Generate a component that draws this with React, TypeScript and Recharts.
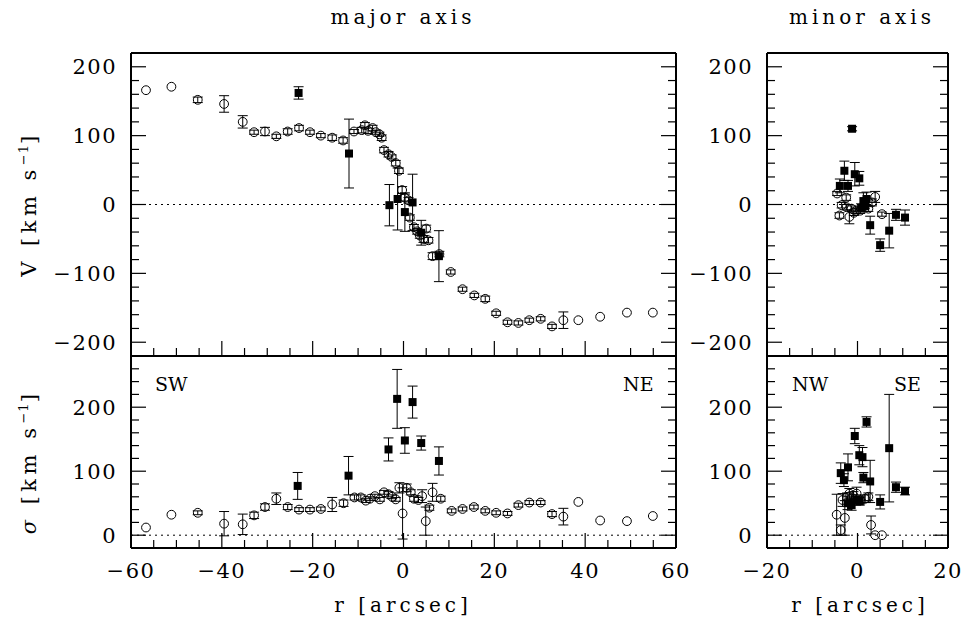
import React from 'react';
import { ScatterChart, Scatter, XAxis, YAxis, ErrorBar, ReferenceLine } from 'recharts';

// [r (arcsec), value (km/s), error]
type Pt = [number, number, number];

// major axis, velocity
const majorGasV: Pt[] = [
  [-56.7, 166, 0], [-51.1, 171, 0], [-45.3, 152, 4], [-39.5, 146, 12], [-35.4, 120, 9],
  [-32.9, 105, 3], [-30.5, 106, 6], [-28, 99, 3], [-25.5, 106, 4], [-23, 111, 4],
  [-20.6, 105, 3], [-18.2, 100, 3], [-15.7, 97, 4], [-13.3, 93, 4], [-10.9, 106, 3],
  [-9.2, 108, 4], [-8.5, 115, 4], [-7.8, 107, 4], [-6.8, 111, 4], [-6.1, 105, 3],
  [-5.3, 102, 3], [-4.8, 97, 4], [-4.3, 79, 4], [-3.3, 73, 4], [-2.6, 69, 3],
  [-1.7, 60, 4], [-1.0, 49, 4], [-0.3, 21, 5], [0.3, 10, 5], [1.1, 6, 4],
  [1.4, -19, 4], [2.3, -33, 4], [3.0, -39, 4], [3.6, -45, 4], [4.4, -50, 5],
  [5.0, -35, 5], [5.5, -52, 4], [6.4, -75, 5], [7.9, -72, 4], [10.4, -98, 3],
  [13.0, -123, 3], [15.6, -132, 3], [18.0, -137, 4], [20.4, -158, 3], [22.9, -171, 3],
  [25.3, -172, 3], [27.7, -168, 3], [30.2, -166, 3], [32.7, -177, 3], [35.2, -168, 12],
  [38.5, -168, 0], [43.3, -163, 0], [49.2, -157, 0], [54.9, -157, 0],
];
const majorStarV: Pt[] = [
  [-23.1, 162, 9], [-12.0, 74, 50], [-3.1, -1, 30], [-1.3, 8, 45],
  [0.3, -11, 28], [2.0, 3, 41], [3.9, -41, 18], [7.8, -75, 37],
];

// major axis, dispersion
const majorGasS: Pt[] = [
  [-56.7, 12, 0], [-51.1, 32, 0], [-45.3, 35, 3], [-39.5, 18, 19], [-35.4, 17, 16],
  [-32.9, 31, 5], [-30.5, 44, 5], [-28, 57, 9], [-25.5, 44, 4], [-23, 40, 3],
  [-20.6, 40, 3], [-18.2, 41, 3], [-15.7, 48, 11], [-13.2, 50, 5], [-10.8, 59, 4],
  [-9.4, 59, 4], [-8.3, 54, 3], [-7.4, 57, 3], [-6.3, 61, 3], [-5.2, 56, 3],
  [-4.3, 67, 3], [-3.3, 64, 4], [-2.5, 60, 3], [-1.7, 56, 3], [-0.9, 74, 8],
  [-0.2, 34, 40], [0.7, 74, 6], [1.6, 67, 4], [2.3, 57, 4], [3.3, 55, 4],
  [4.1, 61, 10], [4.9, 22, 22], [5.7, 43, 4], [6.4, 67, 14], [8.2, 57, 4],
  [10.6, 38, 3], [13.0, 41, 3], [15.5, 44, 3], [18.0, 38, 3], [20.4, 35, 3],
  [22.9, 34, 3], [25.3, 47, 3], [27.7, 51, 3], [30.2, 51, 3], [32.7, 33, 4],
  [35.2, 29, 13], [38.5, 52, 0], [43.3, 23, 0], [49.2, 22, 0], [54.9, 30, 0],
];
const majorStarS: Pt[] = [
  [-23.3, 77, 21], [-12.1, 93, 30], [-3.3, 134, 18], [-1.4, 213, 46],
  [0.3, 148, 20], [2.0, 208, 25], [3.9, 144, 11], [7.8, 116, 22],
];

// minor axis, velocity
const minorGasV: Pt[] = [
  [-4.5, 16, 3], [-4.0, -16, 4], [-3.5, -1, 4], [-2.5, 10, 4], [-2.4, -4, 4],
  [-1.8, -18, 10], [-1.3, -6, 4], [-0.8, -12, 4], [-0.3, -9, 4], [0.6, -9, 4],
  [1.6, -2, 4], [2.4, -6, 4], [3.2, 3, 5], [3.9, 11, 8], [5.4, -14, 3],
];
const minorStarV: Pt[] = [
  [-1.2, 110, 3], [-2.9, 49, 14], [-0.6, 44, 17], [0.4, 38, 10], [-3.9, 27, 10],
  [-2.1, 27, 8], [0.8, -5, 6], [1.3, 5, 12], [1.7, -2, 8], [2.0, 8, 10],
  [2.8, -30, 13], [5.0, -59, 9], [7.0, -38, 25], [8.5, -15, 8], [10.5, -19, 11],
];

// minor axis, dispersion
const minorGasS: Pt[] = [
  [-4.6, 32, 32], [-3.7, 8, 8], [-2.8, 27, 27], [-3.3, 55, 10], [-2.3, 60, 6],
  [-1.8, 65, 8], [-1.3, 58, 5], [-0.9, 62, 6], [-0.2, 65, 10], [0.6, 55, 6],
  [1.7, 57, 6], [2.4, 60, 6], [3.0, 16, 14], [3.9, 0, 0], [5.4, 0, 0],
];
const minorStarS: Pt[] = [
  [-3.7, 97, 16], [-3.0, 86, 10], [-2.1, 106, 21], [-0.6, 155, 12], [0.4, 125, 15],
  [1.1, 122, 15], [2.0, 177, 8], [1.3, 90, 8], [2.8, 84, 33], [5.0, 52, 11],
  [7.0, 136, 84], [8.5, 75, 8], [10.5, 69, 6], [-1.3, 47, 8], [-0.3, 55, 8],
  [-2.2, 50, 10], [0.5, 53, 6],
];

// tick labels
const majorRTicks = [-60, -40, -20, 0, 20, 40, 60];
const minorRTicks = [-20, 0, 20];
const vTicks = [-200, -100, 0, 100, 200];
const sigmaTicks = [0, 100, 200];

const W = 965;
const H = 626;
const FONT = '"DejaVu Serif", serif';

const rows = (pts: Pt[]) => pts.map(([r, v, e]) => ({ r, v, e }));
const fmt = (v: number) => (v < 0 ? '\u2212' + Math.abs(v) : String(v));
const steps = (a: number, b: number, s: number) => {
  const out: number[] = [];
  for (let k = 0; a + k * s <= b + 1e-9; k++) out.push(a + k * s);
  return out;
};

const OpenCircle = (p: any) => (
  <circle cx={p.cx} cy={p.cy} r={4.4} fill="none" stroke="#000" strokeWidth={1} />
);
const FilledSquare = (p: any) => (
  <rect x={p.cx - 4} y={p.cy - 4} width={8} height={8} fill="#000" />
);

type Side = 'bottom' | 'top' | 'left' | 'right';
const tickText = { fontFamily: FONT, fontSize: 21, letterSpacing: 1.5, fill: '#000' };

// draws inward tick marks (long for labelled values, short otherwise) and the labels
const makeTick = (side: Side, majors: number[], showLabel: boolean) => (p: any) => {
  const v = p.payload.value;
  const major = majors.includes(v);
  const len = major ? 15 : 8;
  const x = p.x;
  const y = p.y;
  const dx = side === 'left' ? len : side === 'right' ? -len : 0;
  const dy = side === 'bottom' ? -len : side === 'top' ? len : 0;
  return (
    <g>
      <line x1={x} y1={y} x2={x + dx} y2={y + dy} stroke="#000" strokeWidth={1.2} />
      {major && showLabel && side === 'bottom' && (
        <text x={x} y={y + 15} dy="0.72em" textAnchor="middle" {...tickText}>{fmt(v)}</text>
      )}
      {major && showLabel && side === 'left' && (
        <text x={x - 14} y={y} dy="0.36em" textAnchor="end" {...tickText}>{fmt(v)}</text>
      )}
    </g>
  );
};

const frame = { stroke: '#000', strokeWidth: 2 };

function axes(xd: [number, number], yd: [number, number], xMajor: number[], yMajor: number[], showX: boolean) {
  const xAll = steps(xd[0], xd[1], 5);
  const yAll = steps(yd[0], yd[1], 20);
  const c = {
    type: 'number' as const, allowDataOverflow: true, interval: 0 as const,
    tickSize: 0, tickMargin: 0, tickLine: false, axisLine: frame,
  };
  return [
    <XAxis key="xb" xAxisId="xb" orientation="bottom" dataKey="r" domain={xd} ticks={xAll} height={1}
      tick={makeTick('bottom', xMajor, showX)} {...c} />,
    <XAxis key="xt" xAxisId="xt" orientation="top" domain={xd} ticks={xAll} height={1}
      tick={makeTick('top', xMajor, false)} {...c} />,
    <YAxis key="yl" yAxisId="yl" orientation="left" dataKey="v" domain={yd} ticks={yAll} width={1}
      tick={makeTick('left', yMajor, true)} {...c} />,
    <YAxis key="yr" yAxisId="yr" orientation="right" domain={yd} ticks={yAll} width={1}
      tick={makeTick('right', yMajor, false)} {...c} />,
  ];
}

function Panel(props: {
  margin: { top: number; left: number; right: number; bottom: number };
  xd: [number, number]; yd: [number, number];
  xTicks: number[]; yTicks: number[]; showX: boolean;
  gas: Pt[]; stars: Pt[];
}) {
  const { margin, xd, yd, xTicks, yTicks, showX, gas, stars } = props;
  return (
    <div style={{ position: 'absolute', left: 0, top: 0 }}>
      <ScatterChart width={W} height={H} margin={margin}>
        {axes(xd, yd, xTicks, yTicks, showX)}
        <ReferenceLine y={0} xAxisId="xb" yAxisId="yl" stroke="#000" strokeWidth={1} strokeDasharray="2 4" />
        <Scatter data={rows(gas)} xAxisId="xb" yAxisId="yl" shape={OpenCircle} isAnimationActive={false}>
          <ErrorBar dataKey="e" direction="y" width={5} stroke="#000" strokeWidth={1} isAnimationActive={false} />
        </Scatter>
        <Scatter data={rows(stars)} xAxisId="xb" yAxisId="yl" shape={FilledSquare} isAnimationActive={false}>
          <ErrorBar dataKey="e" direction="y" width={5} stroke="#000" strokeWidth={1} isAnimationActive={false} />
        </Scatter>
      </ScatterChart>
    </div>
  );
}

const label = { fontFamily: FONT, fontSize: 20, letterSpacing: 4, fill: '#000' };
const yLabel = { fontFamily: FONT, fontSize: 21, letterSpacing: 4.5, fill: '#000' };
const corner = { fontFamily: FONT, fontSize: 19, fill: '#000' };

export default function App() {
  return (
    <div style={{ position: 'absolute', left: 0, top: 0, width: W, height: H, background: '#fff' }}>
      <Panel margin={{ top: 52, left: 130, right: 288, bottom: 269 }} xd={[-60, 60]} yd={[-220, 220]}
        xTicks={majorRTicks} yTicks={vTicks} showX={false} gas={majorGasV} stars={majorStarV} />
      <Panel margin={{ top: 355, left: 130, right: 288, bottom: 77 }} xd={[-60, 60]} yd={[-20, 280]}
        xTicks={majorRTicks} yTicks={sigmaTicks} showX={true} gas={majorGasS} stars={majorStarS} />
      <Panel margin={{ top: 52, left: 766, right: 16, bottom: 269 }} xd={[-20, 20]} yd={[-220, 220]}
        xTicks={minorRTicks} yTicks={vTicks} showX={false} gas={minorGasV} stars={minorStarV} />
      <Panel margin={{ top: 355, left: 766, right: 16, bottom: 77 }} xd={[-20, 20]} yd={[-20, 280]}
        xTicks={minorRTicks} yTicks={sigmaTicks} showX={true} gas={minorGasS} stars={minorStarS} />
      <svg width={W} height={H} style={{ position: 'absolute', left: 0, top: 0, pointerEvents: 'none' }}>
        <text x={403} y={24} textAnchor="middle" {...label}>major axis</text>
        <text x={862} y={24} textAnchor="middle" {...label}>minor axis</text>
        <text x={403} y={612} textAnchor="middle" {...label}>r [arcsec]</text>
        <text x={860} y={612} textAnchor="middle" {...label}>r [arcsec]</text>
        <text transform="translate(36,204) rotate(-90)" textAnchor="middle" {...yLabel}>
          V [km s<tspan dy={-8} fontSize={13} letterSpacing={1}>−1</tspan><tspan dy={8}>]</tspan>
        </text>
        <text transform="translate(36,462) rotate(-90)" textAnchor="middle" {...yLabel}>
          <tspan fontStyle="italic">σ</tspan> [km s<tspan dy={-8} fontSize={13} letterSpacing={1}>−1</tspan><tspan dy={8}>]</tspan>
        </text>
        <text x={155} y={391} {...corner}>SW</text>
        <text x={623} y={391} {...corner}>NE</text>
        <text x={792} y={391} {...corner}>NW</text>
        <text x={894} y={391} {...corner}>SE</text>
      </svg>
    </div>
  );
}
